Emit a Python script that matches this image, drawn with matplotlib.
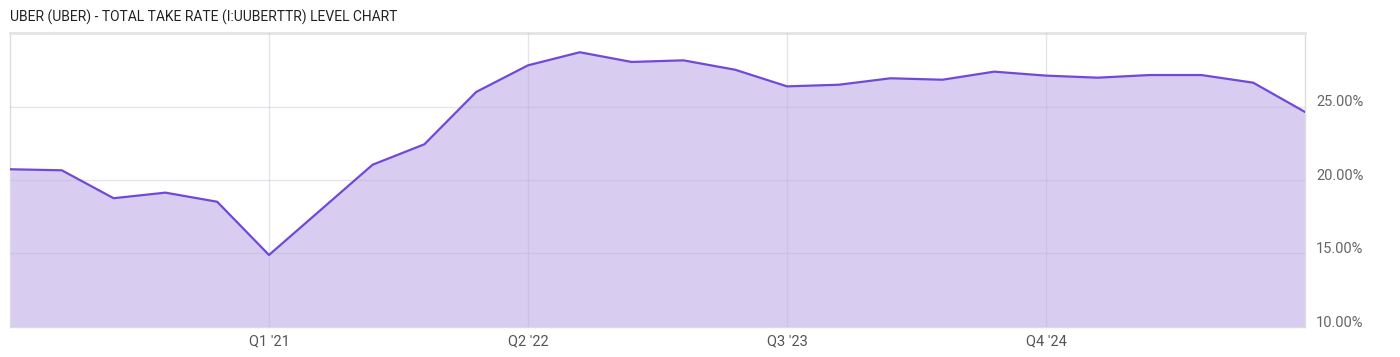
import matplotlib.pyplot as plt
from matplotlib.ticker import FuncFormatter
import matplotlib.transforms as mtransforms

plt.rcParams['font.family'] = ['Roboto', 'DejaVu Sans']

### Quarterly take rate values (%)
take_rate = [20.73, 20.66, 18.76, 19.14, 18.52, 14.90, 17.97, 21.04, 22.43, 25.99,
             27.80, 28.69, 28.03, 28.14, 27.50, 26.37, 26.48, 26.92, 26.82, 27.37,
             27.10, 26.96, 27.14, 27.14, 26.62, 24.63]
tick_pos = [5, 10, 15, 20]
tick_labels = ["Q1 '21", "Q2 '22", "Q3 '23", "Q4 '24"]
y_ticks = [10, 15, 20, 25]

x = list(range(len(take_rate)))

fig = plt.figure(figsize=(14, 3.57), dpi=100)
ax = fig.add_axes([10/1400, 30/357, 1295/1400, 294/357])

ax.fill_between(x, take_rate, 10, color='#d8cdf0', zorder=1, linewidth=0)
ax.plot(x, take_rate, color='#7049d8', linewidth=1.6, zorder=3)

ax.set_xlim(0, len(take_rate) - 1)
ax.set_ylim(10, 30)

ax.set_xticks(tick_pos)
ax.set_xticklabels(tick_labels, fontsize=10.5, color='#555555')
ax.set_yticks(y_ticks)
ax.yaxis.set_major_formatter(FuncFormatter(lambda v, p: '%.2f%%' % v))
ax.yaxis.tick_right()
ax.tick_params(axis='both', length=0)
ax.tick_params(axis='y', labelsize=10.5, labelcolor='#666666', pad=8)
ax.tick_params(axis='x', pad=5)
for lab in ax.get_yticklabels():
    lab.set_va('baseline')

### grid drawn over the fill, semi transparent
ax.grid(True, color='#b8b0c8', alpha=0.35, linewidth=1, zorder=2)
ax.set_axisbelow(False)

for side in ['left', 'right', 'bottom']:
    ax.spines[side].set_color('#dddddd')
    ax.spines[side].set_linewidth(1)
ax.spines['top'].set_color('#e4e4e4')
ax.spines['top'].set_linewidth(2)

fig.text(10/1400, 1 - 17/357, "UBER (UBER) - TOTAL TAKE RATE (I:UUBERTTR) LEVEL CHART",
         fontsize=10, color='#222222', va='center', ha='left')

fig.savefig('out.png', dpi=100)
